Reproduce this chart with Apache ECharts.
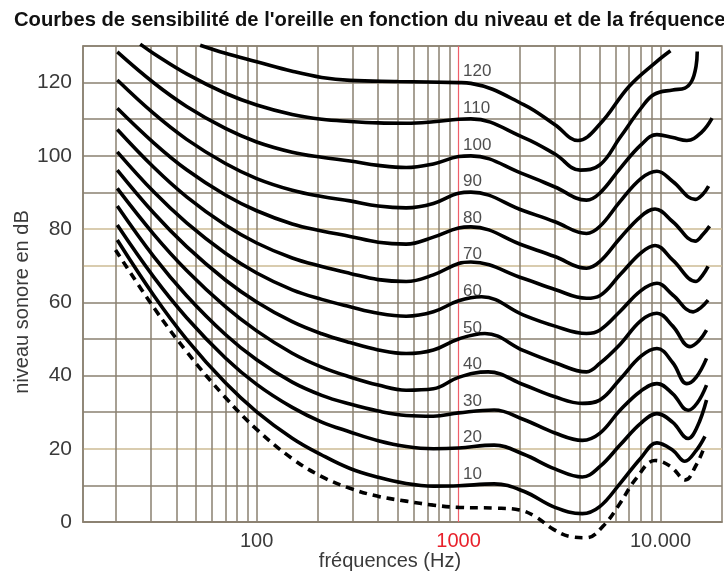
<!DOCTYPE html>
<html><head><meta charset="utf-8">
<script src="https://cdn.jsdelivr.net/npm/echarts/dist/echarts.min.js"></script>
<style>html,body{margin:0;padding:0;background:#fff}#c{width:724px;height:573px}</style>
</head><body><div id="c"></div>
<script>
// ---- data ----
const titleText = "Courbes de sensibilité de l'oreille en fonction du niveau et de la fréquence";
const xName = "fréquences (Hz)";
const yName = "niveau sonore en dB";
const phonLevels = [120, 110, 100, 90, 80, 70, 60, 50, 40, 30, 20, 10];
const xTickLabels = {100: '100', 1000: '1000', 10000: '10.000'};
const yTickLabels = [0, 20, 40, 60, 80, 100, 120];
const gridFreqs = [20,30,40,50,60,70,80,90,100,200,300,400,500,600,700,800,900,1000,2000,3000,4000,5000,6000,7000,8000,9000,10000];
const tanLevels = [20, 70, 80];

// common low/mid frequencies (Hz)
const fLow = [20.4, 31, 45, 70, 100, 150, 210, 290, 400, 550, 750, 1000];

// threshold of hearing (dashed)
const f_0  = [20, 31, 45, 70, 100, 150, 210, 290, 400, 550, 750, 1000, 1500, 2000, 2400, 2950, 3600, 4300, 5200, 6200, 7600, 9400, 11200, 13300, 15000, 16300];
const db_0 = [74.3, 58.5, 46.5, 34.0, 25.3, 17.3, 12.4, 9.2, 7.0, 5.7, 4.6, 4.0, 3.8, 3.3, 1.5, -2, -4, -4.3, -1.1, 4.5, 12, 16.8, 15.2, 11.5, 15.5, 19.8];

const db_10lo  = [77, 61.8, 49.9, 38, 30.1, 22.9, 18.3, 14.6, 12.2, 10.5, 9.8, 9.9];
const f_10hi   = [1500, 2100, 3000, 4100, 5000, 6300, 8000, 9600, 11500, 13200, 15000, 16600];
const db_10hi  = [10.4, 8.4, 4.0, 2.3, 4.2, 10.5, 17.5, 21.6, 19.6, 16.6, 19.5, 23.4];

const db_20lo  = [81.1, 66.8, 55.8, 44.8, 37.6, 31.3, 27.3, 24.6, 22.2, 20.6, 20.0, 20.2];
const f_20hi   = [1500, 2100, 3000, 4100, 5000, 6300, 8000, 9600, 11500, 13700, 15200, 16900];
const db_20hi  = [21.0, 18.5, 14.5, 12.3, 15.1, 21, 27, 29.6, 27.2, 22.8, 26, 33.3];

const db_30lo  = [86.3, 72.4, 61.8, 51.2, 44.3, 38.2, 34.6, 32.2, 30.3, 29.1, 28.9, 29.8];
const f_30hi   = [1500, 2100, 3000, 4100, 5000, 6300, 8000, 9600, 11500, 13700, 15200, 16900];
const db_30hi  = [30.6, 28, 24.3, 22.3, 24.2, 30.5, 35.8, 37.8, 35, 30.5, 32.5, 37.4];

const db_40lo  = [91.1, 78.5, 68.7, 58.8, 52.2, 46.1, 42.3, 39.6, 37.4, 36.0, 36.4, 39.5];
const f_40hi   = [1400, 2100, 3000, 4100, 5000, 6300, 8000, 9600, 11500, 13500, 15000, 16900];
const db_40hi  = [41.0, 37.5, 34.2, 32.4, 33.3, 39, 45.3, 47.4, 43.5, 37.8, 39.5, 44.7];

const db_50lo  = [96.1, 84.3, 75.2, 66.1, 60.1, 54.7, 51.4, 49.0, 47.0, 46.0, 47.0, 50.0];
const f_50hi   = [1350, 2100, 3000, 4300, 5000, 6300, 8000, 9600, 11500, 14000, 15500, 16900];
const db_50hi  = [51.5, 46.8, 43.5, 41.0, 43.3, 48.5, 55, 57.0, 53.5, 47.9, 49.5, 52.4];

const db_60lo  = [101.1, 90.1, 81.7, 73.4, 68.0, 63.4, 60.8, 58.8, 57.0, 56.2, 57.4, 60.4];
const f_60hi   = [1300, 2100, 3000, 4300, 5000, 6300, 8000, 9600, 11500, 14500, 15800, 17200];
const db_60hi  = [61.5, 56.5, 53.5, 51.5, 52.4, 57.5, 63.2, 65.2, 62, 57.4, 58.5, 60.6];

const db_70lo  = [107.2, 96.8, 88.8, 81.1, 76.2, 72.1, 69.8, 67.9, 66.2, 65.7, 67.5, 70.6];
const f_70hi   = [1150, 2100, 3000, 4300, 5000, 6300, 8000, 9400, 11500, 15000, 16200, 17200];
const db_70hi  = [71.0, 66.5, 63.5, 61.1, 61.8, 67.5, 73.5, 75.5, 71.5, 65.7, 67.5, 69.8];

const db_80lo  = [113, 103.5, 96.2, 89.3, 85.0, 81.4, 79.5, 78.0, 76.4, 75.9, 77.8, 80.3];
const f_80hi   = [1150, 2100, 3000, 4300, 5000, 6300, 8000, 9400, 11500, 14850, 16200, 17500];
const db_80hi  = [80.6, 75.5, 72.5, 69.3, 71.1, 77.5, 83.5, 85.5, 82, 76.7, 78.5, 80.8];

const db_90lo  = [120.7, 111.5, 104.5, 97.9, 93.8, 90.6, 88.9, 87.7, 86.3, 85.8, 87.0, 89.8];
const f_90hi   = [1150, 2100, 3000, 4300, 5000, 6300, 8000, 9600, 11500, 14850, 16200, 17300];
const db_90hi  = [90.1, 85, 82, 78.8, 80.7, 87.5, 93.8, 95.8, 93, 88.1, 89.5, 91.7];

const db_100lo = [128.4, 119.9, 113.5, 107.5, 103.8, 101.0, 99.6, 98.6, 97.4, 96.8, 97.8, 99.8];
const f_100hi  = [1150, 2100, 3000, 4300, 5000, 6300, 8000, 9600, 11500, 13500, 16000, 18000];
const db_100hi = [100.0, 95, 91.5, 87.9, 89.8, 96.5, 103, 105.8, 105, 104.2, 106.5, 110.3];

const f_110  = [26.5, 31, 45, 70, 100, 150, 210, 290, 400, 550, 750, 1000, 1150, 2100, 3000, 4000, 5000, 6300, 8000, 9300, 11500, 13200, 14300, 15000, 15200];
const db_110 = [130.5, 127.9, 122.4, 117.1, 113.9, 111.3, 110.0, 109.4, 109.0, 108.9, 109.3, 110.0, 110.1, 105, 100.5, 96.1, 97.5, 105, 113, 116.8, 118, 118.5, 120.5, 124.5, 128.5];

const f_120  = [52.5, 70, 100, 150, 210, 290, 500, 1000, 1150, 2100, 3000, 3900, 5000, 7000, 9600, 11200];
const db_120 = [130.2, 128, 125.7, 123.1, 121.4, 120.6, 120.3, 120.0, 119.8, 114, 108.5, 104.2, 108.6, 119, 125.8, 128.7];

// ---- build chart ----
const join = (fa, da) => fa.map((x, i) => [x, da[i]]);
const lowHigh = (lo, fh, dh) => join(fLow, lo).concat(join(fh, dh));
const curveData = [
  {d: join(f_0, db_0), dashed: true},
  {d: lowHigh(db_10lo, f_10hi, db_10hi)},
  {d: lowHigh(db_20lo, f_20hi, db_20hi)},
  {d: lowHigh(db_30lo, f_30hi, db_30hi)},
  {d: lowHigh(db_40lo, f_40hi, db_40hi)},
  {d: lowHigh(db_50lo, f_50hi, db_50hi)},
  {d: lowHigh(db_60lo, f_60hi, db_60hi)},
  {d: lowHigh(db_70lo, f_70hi, db_70hi)},
  {d: lowHigh(db_80lo, f_80hi, db_80hi)},
  {d: lowHigh(db_90lo, f_90hi, db_90hi)},
  {d: lowHigh(db_100lo, f_100hi, db_100hi)},
  {d: join(f_110, db_110)},
  {d: join(f_120, db_120)}
];
const gridCol = '#8a8070';
const tanCol = '#cdbb95';
const redCol = '#f0606a';
const FONT = 'Liberation Sans';

const yLineColors = [];
for (let v = 0; v <= 130; v += 10) yLineColors.push(tanLevels.indexOf(v) >= 0 ? tanCol : gridCol);

const series = curveData.map(c => ({
  type: 'line',
  data: c.d,
  smooth: 0.4,
  symbol: 'none',
  clip: false,
  silent: true,
  z: 5,
  lineStyle: {color: '#000', width: 3.6, type: c.dashed ? [8, 6] : 'solid', cap: 'butt'}
}));

// vertical grid lines
series.push({
  type: 'line', data: [], silent: true, z: 1,
  markLine: {
    silent: true, symbol: 'none', animation: false,
    label: {show: false},
    data: gridFreqs.map(f => ({xAxis: f, lineStyle: {color: f === 1000 ? redCol : gridCol, width: f === 1000 ? 1.2 : 1.5, type: 'solid'}}))
  }
});

// phon labels next to 1000 Hz
series.push({
  type: 'scatter', silent: true, z: 6,
  symbolSize: 1, itemStyle: {color: 'rgba(0,0,0,0)'},
  data: phonLevels.map(p => [1000, p]),
  label: {
    show: true, position: 'right', distance: 4, offset: [0, -11],
    formatter: p => String(p.value[1]),
    color: '#222', fontSize: 17, fontFamily: FONT
  }
});

const option = {
  animation: false,
  backgroundColor: '#fff',
  title: {
    text: titleText, left: 9, top: 5,
    textStyle: {fontSize: 20.2, fontWeight: 'bold', color: '#111', fontFamily: FONT}
  },
  grid: {left: 83, right: 2, top: 46, bottom: 51, show: true, borderColor: gridCol, borderWidth: 1.5, containLabel: false},
  xAxis: {
    type: 'log', logBase: 10, min: 13.8, max: 20160,
    axisLine: {show: true, lineStyle: {color: gridCol, width: 1.5}},
    axisTick: {show: false},
    splitLine: {show: false},
    axisLabel: {
      margin: 9, fontSize: 20, color: '#3a3a3a', fontFamily: FONT,
      showMinLabel: false, showMaxLabel: false,
      formatter: v => { const r = Math.round(v); if (r === 1000) return '{r|1000}'; return xTickLabels[r] || ''; },
      rich: {r: {color: '#e8202a', fontSize: 20, fontFamily: FONT}}
    }
  },
  yAxis: {
    type: 'value', min: 0, max: 130, interval: 10,
    axisLine: {show: true, lineStyle: {color: gridCol, width: 1.5}},
    axisTick: {show: false},
    splitLine: {show: true, lineStyle: {color: yLineColors, width: 1.5}},
    axisLabel: {
      margin: 11, fontSize: 21, color: '#3a3a3a', fontFamily: FONT,
      formatter: v => yTickLabels.indexOf(v) >= 0 ? String(v) : ''
    }
  },
  graphic: [
    {type: 'text', x: 390, y: 561, silent: true,
     style: {text: xName, textAlign: 'center', textVerticalAlign: 'middle', font: '20px "Liberation Sans"', fill: '#3a3a3a'}},
    {type: 'text', x: 22, y: 302, rotation: Math.PI / 2, silent: true,
     style: {text: yName, textAlign: 'center', textVerticalAlign: 'middle', font: '20px "Liberation Sans"', fill: '#3a3a3a'}}
  ],
  series: series
};

const chart = echarts.init(document.getElementById('c'), null, {renderer: 'canvas'});
chart.setOption(option);
</script>
</body></html>
